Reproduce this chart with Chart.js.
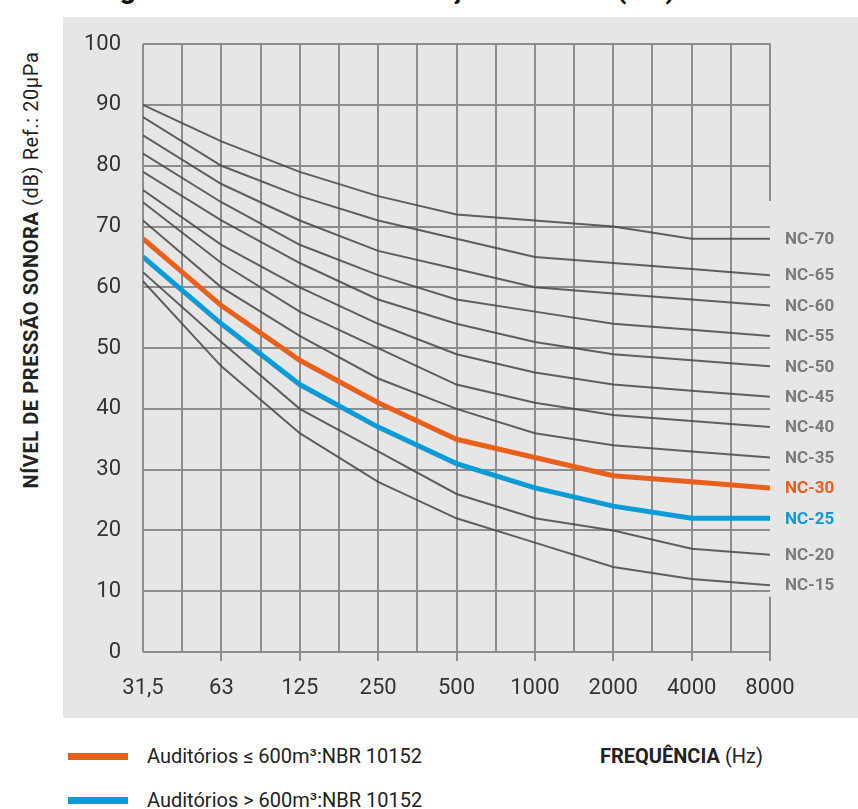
<!DOCTYPE html>
<html>
<head>
<meta charset="utf-8">
<script src="https://cdn.jsdelivr.net/npm/chart.js@4.4.1/dist/chart.umd.min.js"></script>
<style>
  html, body { margin: 0; padding: 0; background: #ffffff; }
  body { width: 858px; height: 809px; position: relative; overflow: hidden; font-family: Roboto, "Open Sans", sans-serif; color: #222; }
  #title { position: absolute; left: 96px; top: -27px; font: bold 29px Roboto, sans-serif; line-height: 30px; color: #111; white-space: nowrap; }
  #panel { position: absolute; left: 63px; top: 17px; width: 795px; height: 701px; background: #e6e6e6; }
  #wrap { position: absolute; left: 0; top: -8px; width: 795px; height: 709px; }
  #ytitle { position: absolute; left: 31px; top: 270px; transform: translate(-50%, -50%) rotate(-90deg); white-space: nowrap; font-size: 20px; letter-spacing: 0.6px; color: #222; }
  #ytitle b { font-weight: bold; }
  .leg { position: absolute; left: 68px; width: 60px; height: 7px; }
  .legtxt { position: absolute; left: 147px; font-size: 20px; line-height: 24px; color: #222; white-space: nowrap; }
  #freq { position: absolute; left: 600px; top: 744px; font-size: 20px; line-height: 24px; color: #222; white-space: nowrap; }
</style>
</head>
<body>
<div id="title">Figura 1 – Curvas de avaliação de ruído (NC)</div>
<div id="panel"><div id="wrap"><canvas id="c"></canvas></div></div>
<div id="ytitle"><b>NÍVEL DE PRESSÃO SONORA</b> (dB) Ref.: 20µPa</div>
<div class="leg" style="top:753px;background:#e8601c;"></div>
<div class="legtxt" style="top:744px;">Auditórios ≤ 600m³:NBR 10152</div>
<div class="leg" style="top:797px;background:#0b9bd7;"></div>
<div class="legtxt" style="top:788px;">Auditórios &gt; 600m³:NBR 10152</div>
<div id="freq"><b>FREQUÊNCIA</b> (Hz)</div>
<script>
// Categories (octave band centre frequencies)
const freqLabels = ['31,5', '63', '125', '250', '500', '1000', '2000', '4000', '8000'];
// Y ticks
const yMin = 0, yMax = 100, yStep = 10;
// NC curve values (dB) per band
const nc70 = [90, 84, 79, 75, 72, 71, 70, 68, 68];
const nc65 = [88, 80, 75, 71, 68, 65, 64, 63, 62];
const nc60 = [85, 77, 71, 66, 63, 60, 59, 58, 57];
const nc55 = [82, 74, 67, 62, 58, 56, 54, 53, 52];
const nc50 = [79, 71, 64, 58, 54, 51, 49, 48, 47];
const nc45 = [76, 67, 60, 54, 49, 46, 44, 43, 42];
const nc40 = [74, 64, 56, 50, 44, 41, 39, 38, 37];
const nc35 = [71, 60, 52, 45, 40, 36, 34, 33, 32];
const nc30 = [68, 57, 48, 41, 35, 32, 29, 28, 27];
const nc25 = [65, 54, 44, 37, 31, 27, 24, 22, 22];
const nc20 = [62.5, 51, 40, 33, 26, 22, 20, 17, 16];
const nc15 = [61, 47, 36, 28, 22, 18, 14, 12, 11];
const curveNames = ['NC-70', 'NC-65', 'NC-60', 'NC-55', 'NC-50', 'NC-45', 'NC-40', 'NC-35', 'NC-30', 'NC-25', 'NC-20', 'NC-15'];
const curveValues = [nc70, nc65, nc60, nc55, nc50, nc45, nc40, nc35, nc30, nc25, nc20, nc15];

const ORANGE = '#e8601c', BLUE = '#0b9bd7', GRAY = 'rgba(70,70,70,0.85)', GRID = '#8d8d8d';

const datasets = curveNames.map((name, k) => {
  const color = name === 'NC-30' ? ORANGE : (name === 'NC-25' ? BLUE : GRAY);
  const thick = name === 'NC-30' || name === 'NC-25';
  return {
    label: name,
    data: curveValues[k].map((v, i) => ({ x: i, y: v })),
    borderColor: color,
    borderWidth: thick ? 5 : 2,
    pointRadius: 0,
    tension: 0,
    fill: false,
    order: thick ? 0 : 1
  };
});

const ncLabels = {
  id: 'ncLabels',
  afterDatasetsDraw(chart) {
    const { ctx, chartArea, scales } = chart;
    const xs = scales.x, ys = scales.y;
    const xr = xs.getPixelForValue(8);
    ctx.save();
    // broken right border
    ctx.strokeStyle = GRID;
    ctx.lineWidth = 2;
    ctx.beginPath();
    ctx.moveTo(Math.round(xr), ys.getPixelForValue(100) - 1);
    ctx.lineTo(Math.round(xr), ys.getPixelForValue(74.2));
    ctx.moveTo(Math.round(xr), ys.getPixelForValue(9.1));
    ctx.lineTo(Math.round(xr), ys.getPixelForValue(0));
    ctx.stroke();
    // curve labels
    ctx.font = 'bold 17px Roboto, sans-serif';
    ctx.textBaseline = 'middle';
    ctx.textAlign = 'left';
    chart.data.datasets.forEach(ds => {
      const last = ds.data[ds.data.length - 1];
      const y = ys.getPixelForValue(last.y);
      ctx.fillStyle = ds.label === 'NC-30' ? ORANGE : (ds.label === 'NC-25' ? BLUE : '#7a7a7a');
      ctx.fillText(ds.label, chartArea.right + 15, y + 1);
    });
    ctx.restore();
  }
};

new Chart(document.getElementById('c'), {
  type: 'line',
  data: { datasets },
  options: {
    responsive: true,
    maintainAspectRatio: false,
    animation: false,
    layout: { padding: { top: 11, right: 88, left: 0, bottom: 0 } },
    plugins: { legend: { display: false }, tooltip: { enabled: false } },
    scales: {
      x: {
        type: 'linear',
        min: 0,
        max: freqLabels.length - 1,
        border: { display: false },
        grid: {
          color: c => (c.tick && c.tick.value === freqLabels.length - 1) ? 'rgba(0,0,0,0)' : GRID,
          lineWidth: 2,
          tickLength: 9,
          tickColor: c => (c.tick && Number.isInteger(c.tick.value) && c.tick.value > 0) ? GRID : 'rgba(0,0,0,0)'
        },
        ticks: {
          stepSize: 0.5,
          autoSkip: false,
          maxRotation: 0,
          padding: 14,
          color: '#333',
          font: { family: 'Roboto', size: 22 },
          callback: v => Number.isInteger(v) ? freqLabels[v] : ''
        },
        afterFit: s => { s.height = 66; }
      },
      y: {
        min: yMin,
        max: yMax,
        border: { display: false },
        grid: { color: GRID, lineWidth: 2, drawTicks: false },
        ticks: {
          stepSize: yStep,
          padding: 22,
          color: '#333',
          font: { family: 'Roboto', size: 22 }
        },
        afterFit: s => { s.width = 80; }
      }
    }
  },
  plugins: [ncLabels]
});
</script>
</body>
</html>
